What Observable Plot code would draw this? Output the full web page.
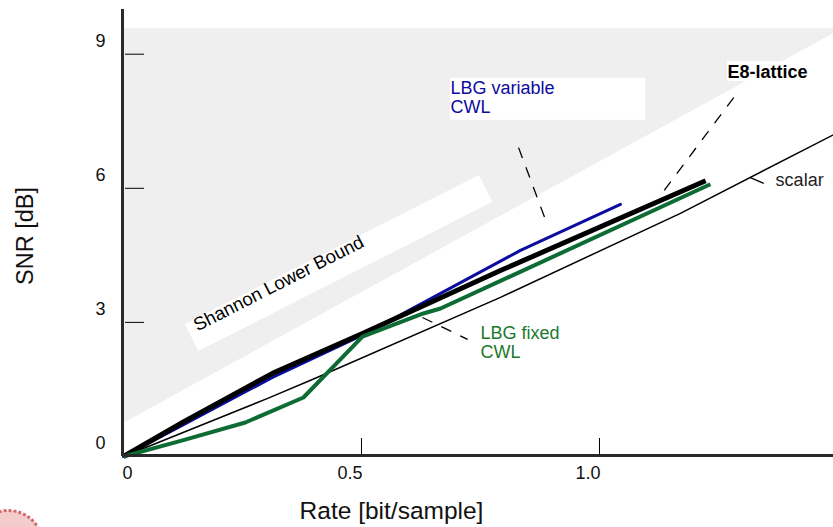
<!DOCTYPE html>
<html><head><meta charset="utf-8">
<script src="https://cdn.jsdelivr.net/npm/d3@7"></script>
<script src="https://cdn.jsdelivr.net/npm/@observablehq/plot@0.6"></script>
<style>
body{margin:0;background:#fff;}
#chart{width:833px;height:527px;overflow:hidden;}
</style></head><body><div id="chart"></div>
<script>
// ---- data ----
const scalarRate = [0, 0.303, 0.403, 0.792, 1.170, 1.492];
const scalarSNR  = [0, 1.30, 1.75, 3.56, 5.44, 7.20];

const e8Rate = [0, 0.124, 0.313, 0.502, 0.792, 1.223];
const e8SNR  = [0, 0.76, 1.86, 2.75, 4.16, 6.17];

const lbgVarRate = [0, 0.124, 0.313, 0.513, 0.834, 1.044];
const lbgVarSNR  = [0, 0.70, 1.77, 2.77, 4.61, 5.64];

const lbgFixRate = [0, 0.124, 0.256, 0.378, 0.502, 0.630, 0.666, 1.233];
const lbgFixSNR  = [0, 0.36, 0.76, 1.32, 2.68, 3.20, 3.31, 6.09];

// Shannon lower bound (shaded region above it)
const shannonRate = [0, 1.4916];
const shannonSNR  = [0.74, 9.46];
const shadeTop = 9.57;

const xTickValues = [0, 0.5, 1.0];
const xTickLabels = ["0", "0.5", "1.0"];
const yTickValues = [0, 3, 6, 9];
const yTickLabels = ["0", "3", "6", "9"];

// annotations (label anchors and leader lines, in data units)
const bandX = [0.143, 0.761], bandY = [2.66, 6.0];
const boxX1 = [0.687, 1.269], boxX2 = [1.097, 1.439], boxY1 = [8.46, 8.83], boxY2 = [7.52, 8.39];
const leaderX1 = [0.830, 1.282, 0.628], leaderY1 = [6.91, 8.03, 3.11];
const leaderX2 = [0.891, 1.128, 0.723], leaderY2 = [5.17, 5.84, 2.62];
const scalarLeader = {x1: 1.317, y1: 6.24, x2: 1.345, y2: 6.11};

const BLUE = "#0c0ca0", GREEN = "#0d6b34";
const FONT = "'Liberation Sans', Arial, Helvetica, sans-serif";

const idx = a => a.map((_, i) => i);
const series = (xs, ys) => xs.map((x, i) => ({x, y: ys[i]}));

const plot = Plot.plot({
  width: 833, height: 527,
  marginLeft: 123, marginRight: 0, marginTop: 9, marginBottom: 71,
  x: {domain: [0, 1.4916], axis: null},
  y: {domain: [0, 10], axis: null},
  style: {fontFamily: FONT, background: "white"},
  marks: [
    // shaded region above Shannon lower bound
    Plot.areaY(series(shannonRate, shannonSNR), {x: "x", y1: "y", y2: shadeTop, fill: "#efefef"}),
    // white band behind the Shannon label
    Plot.link([0], {x1: bandX[0], y1: bandY[0], x2: bandX[1], y2: bandY[1], stroke: "white", strokeWidth: 30, strokeLinecap: "butt"}),
    // white label boxes
    Plot.rect(idx(boxX1), {x1: i => boxX1[i], x2: i => boxX2[i], y1: i => boxY1[i], y2: i => boxY2[i], fill: "white"}),
    // curves
    Plot.line(series(scalarRate, scalarSNR), {x: "x", y: "y", stroke: "black", strokeWidth: 1.5}),
    Plot.line(series(lbgVarRate, lbgVarSNR), {x: "x", y: "y", stroke: BLUE, strokeWidth: 3}),
    Plot.line(series(e8Rate, e8SNR), {x: "x", y: "y", stroke: "black", strokeWidth: 5, strokeLinecap: "butt"}),
    Plot.line(series(lbgFixRate, lbgFixSNR), {x: "x", y: "y", stroke: GREEN, strokeWidth: 4, strokeLinecap: "butt"}),
    // leader lines
    Plot.link(idx(leaderX1), {x1: i => leaderX1[i], y1: i => leaderY1[i], x2: i => leaderX2[i], y2: i => leaderY2[i], stroke: "black", strokeWidth: 1.3, strokeDasharray: "11,10"}),
    Plot.link([scalarLeader], {x1: "x1", y1: "y1", x2: "x2", y2: "y2", stroke: "black", strokeWidth: 1.3}),
    // labels
    Plot.text(["Shannon Lower Bound"], {x: 0.326, y: 3.87, text: d => d, rotate: -27, fontSize: 18.5, fill: "black"}),
    Plot.text(["LBG variable\nCWL"], {x: 0.687, y: 8.41, text: d => d, textAnchor: "start", lineAnchor: "top", lineHeight: 1.05, fontSize: 18, fill: BLUE}),
    Plot.text(["LBG fixed\nCWL"], {x: 0.750, y: 2.91, text: d => d, textAnchor: "start", lineAnchor: "top", lineHeight: 1.02, fontSize: 18, fill: "#1a7a2c"}),
    Plot.text(["E8-lattice"], {x: 1.269, y: 8.75, text: d => d, textAnchor: "start", lineAnchor: "top", fontSize: 18, fontWeight: "bold", fill: "black"}),
    Plot.text(["scalar"], {x: 1.370, y: 6.33, text: d => d, textAnchor: "start", lineAnchor: "top", fontSize: 18, fill: "#222"}),
    // axes
    Plot.ruleX([0], {y1: 0, y2: 10, stroke: "#2a2a2a", strokeWidth: 3, dx: -1}),
    Plot.ruleY([0], {x1: 0, x2: 1.4916, stroke: "#2a2a2a", strokeWidth: 3, dy: -1}),
    Plot.tickY(yTickValues.slice(1), {y: d => d, insetLeft: 2, insetRight: 689, stroke: "black", strokeWidth: 1}),
    Plot.tickX(xTickValues.slice(1), {x: d => d, insetTop: 429, insetBottom: 1, stroke: "black", strokeWidth: 1}),
    Plot.text(idx(yTickValues), {y: i => yTickValues[i], text: i => yTickLabels[i], frameAnchor: "left", textAnchor: "end", lineAnchor: "middle", dx: -18, dy: -13, fontSize: 18, fill: "#111"}),
    Plot.text([0], {x: i => xTickValues[i], text: i => xTickLabels[i], frameAnchor: "bottom", textAnchor: "start", lineAnchor: "middle", dx: -1, dy: 17, fontSize: 18, fill: "#111"}),
    Plot.text([1, 2], {x: i => xTickValues[i], text: i => xTickLabels[i], frameAnchor: "bottom", textAnchor: "end", lineAnchor: "middle", dx: 1, dy: 17, fontSize: 18, fill: "#111"}),
    // axis titles
    Plot.text(["SNR [dB]"], {text: d => d, frameAnchor: "left", textAnchor: "middle", lineAnchor: "middle", rotate: -90, dx: -98, dy: 3, fontSize: 23.5, fill: "#111"}),
    Plot.text(["Rate [bit/sample]"], {text: d => d, frameAnchor: "bottom", textAnchor: "middle", lineAnchor: "middle", dx: -87, dy: 55, fontSize: 24.5, fill: "#111"}),
    // partial logo seal at the lower-left corner
    Plot.dot([0], {frameAnchor: "bottom-left", dx: -115, dy: 88, r: 34, fill: "#f4cccc", stroke: "#d46a6a", strokeWidth: 3, strokeDasharray: "3,2"})
  ]
});
document.getElementById("chart").appendChild(plot);
</script>
</body></html>
